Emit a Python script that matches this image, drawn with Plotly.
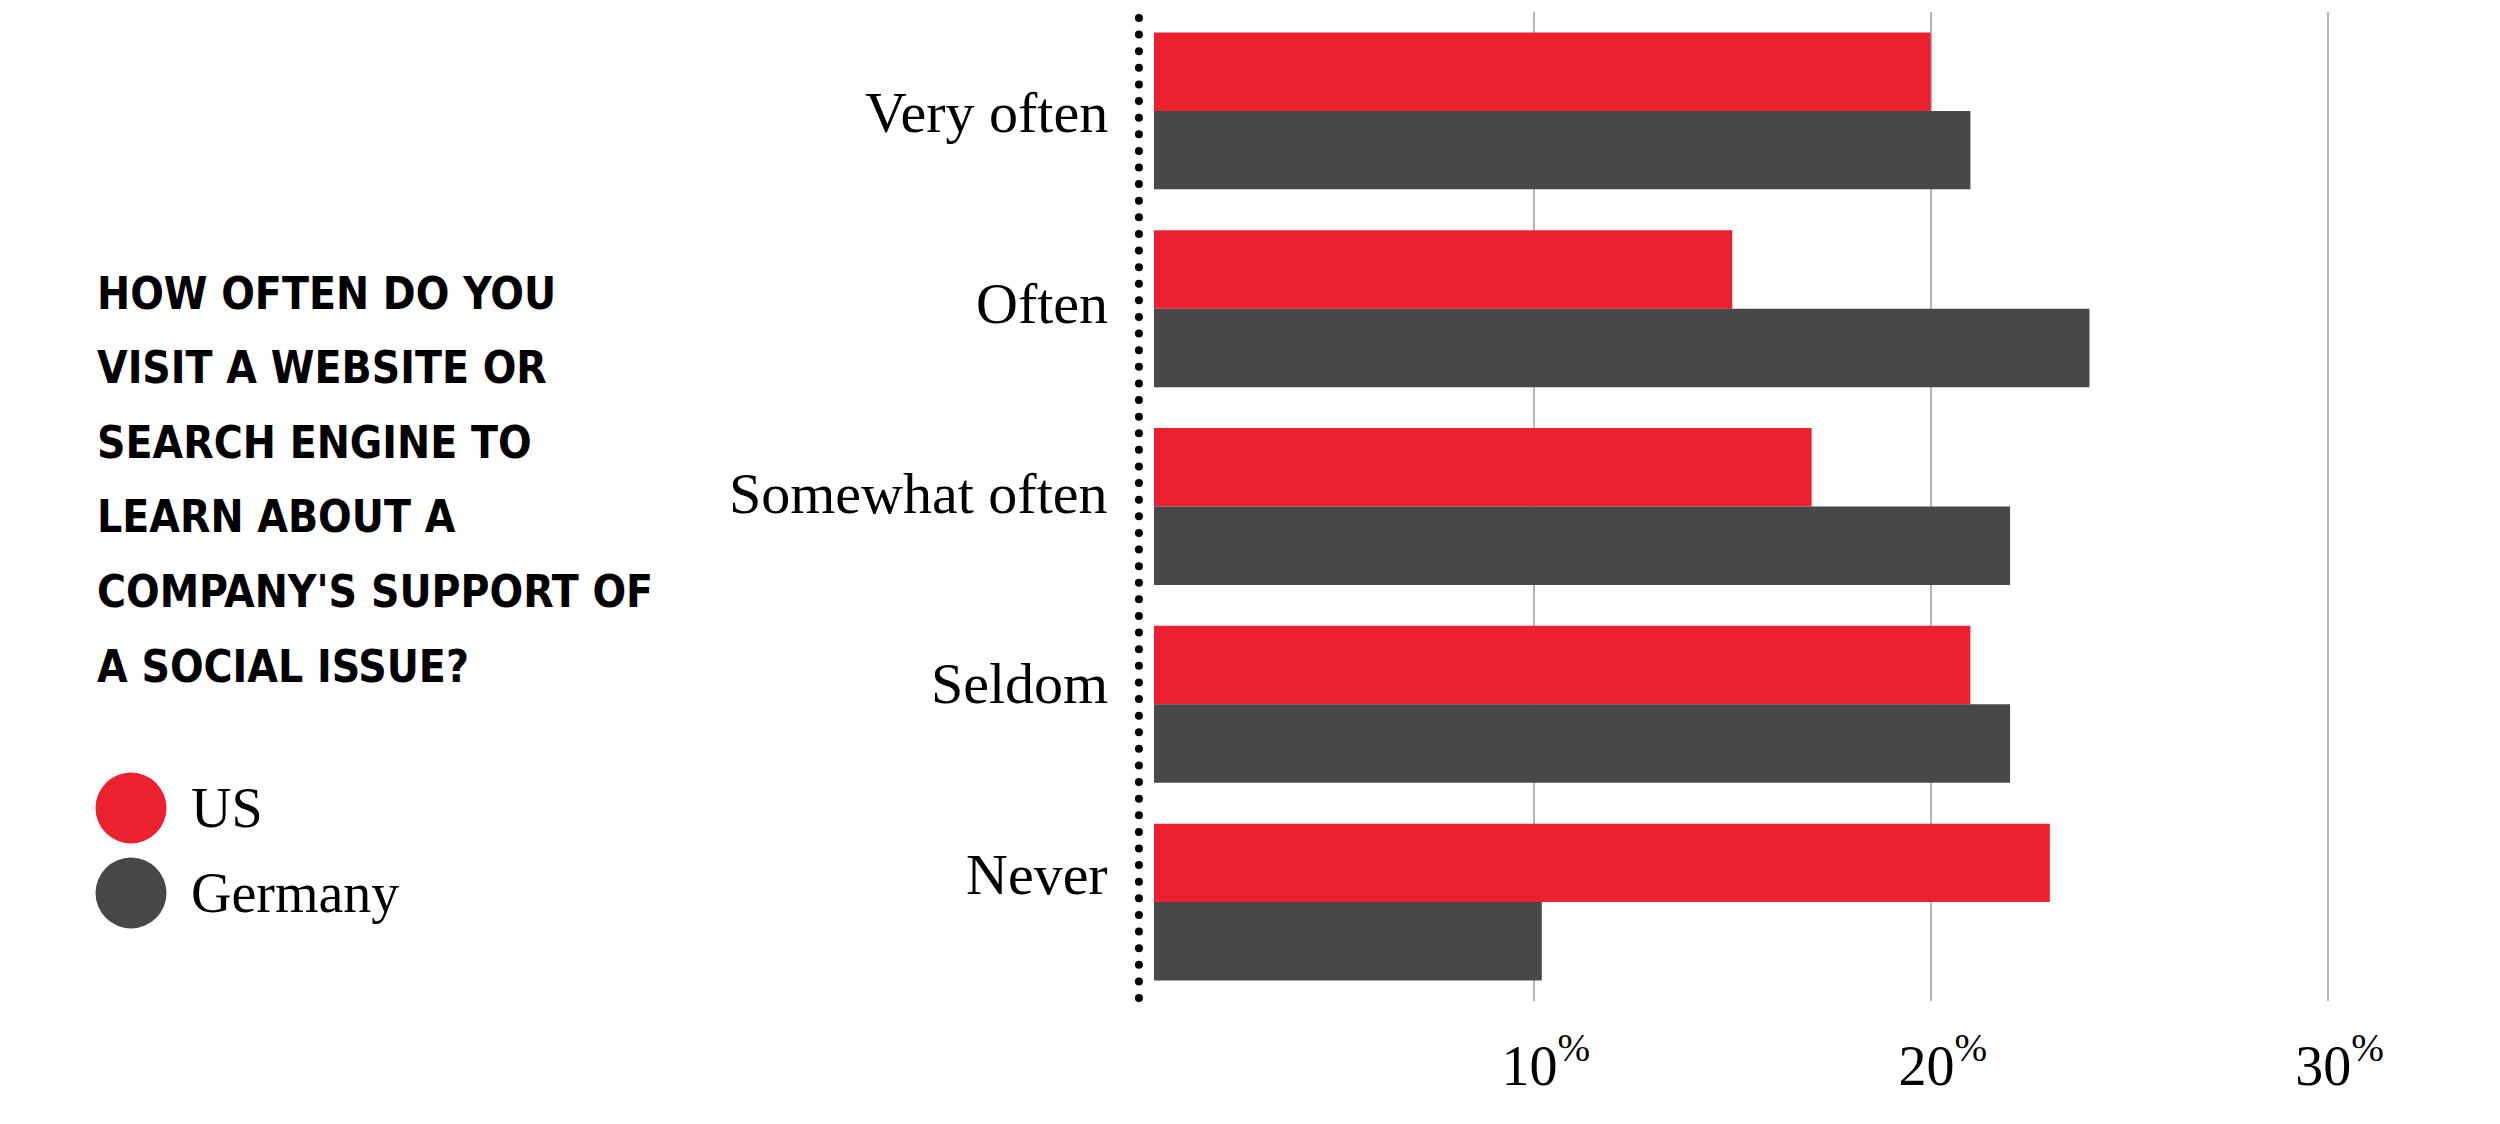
import numpy as np
import plotly.graph_objects as go

# ---------------- data ----------------
categories = ["Very often", "Often", "Somewhat often", "Seldom", "Never"]
us_values = [20, 15, 17, 21, 23]
germany_values = [21, 24, 22, 22, 10.2]
series_names = ["US", "Germany"]
tick_values = [10, 20, 30]
tick_labels = ["10<sup>%</sup>", "20<sup>%</sup>", "30<sup>%</sup>"]
title_lines = [
    "HOW OFTEN DO YOU",
    "VISIT A WEBSITE OR",
    "SEARCH ENGINE TO",
    "LEARN ABOUT A",
    "COMPANY'S SUPPORT OF",
    "A SOCIAL ISSUE?",
]

RED = "#EB2130"
GRAY = "#48484A"
W, H = 2500, 1124
# plot area in pixels
PL, PR, PT, PB = 1154, 2407, 12, 1001
X_RANGE = [0.43, 32]

def pxx(px):
    return (px - PL) / (PR - PL)

def pxy(py):
    return (PB - py) / (PB - PT)

SERIF = "Liberation Serif, Times New Roman, serif"
COND = "DejaVu Sans Condensed, Liberation Sans Narrow, sans-serif"

fig = go.Figure()
fig.add_trace(go.Bar(
    y=categories, x=us_values, name=series_names[0], orientation="h",
    marker=dict(color=RED, line=dict(width=0)), offsetgroup="a",
))
fig.add_trace(go.Bar(
    y=categories, x=germany_values, name=series_names[1], orientation="h",
    marker=dict(color=GRAY, line=dict(width=0)), offsetgroup="b",
))

fig.update_layout(
    width=W, height=H,
    margin=dict(l=PL, r=W - PR, t=PT, b=H - PB, pad=0),
    paper_bgcolor="white", plot_bgcolor="white",
    barmode="group", bargap=0.207, bargroupgap=0,
    showlegend=False,
    xaxis=dict(
        range=X_RANGE, tickvals=tick_values, ticktext=tick_labels,
        showgrid=True, gridcolor="#B4B4B4", gridwidth=2,
        zeroline=False, showline=False, ticks="",
        tickfont=dict(family=SERIF, size=56, color="black"),
        ticklabelstandoff=27, ticklabelshift=12,
    ),
    yaxis=dict(
        autorange="reversed", showgrid=False, zeroline=False, showline=False,
        ticks="", showticklabels=False,
    ),
)

# category labels (evenly spaced, right aligned left of the dotted line)
for i, cat in enumerate(categories):
    fig.add_annotation(
        xref="paper", yref="paper", x=pxx(1110), y=pxy(113 + 190.25 * i),
        xanchor="right", yanchor="middle", showarrow=False, text=cat,
        font=dict(family=SERIF, size=58, color="black"),
    )

# dotted baseline at x = 0 (just left of the plot edge)
zero_paper = (0 - X_RANGE[0]) / (X_RANGE[1] - X_RANGE[0])
zero_px = PL + zero_paper * (PR - PL) + 2
dot_r = 4
for cy in np.linspace(18, 998, 60):
    fig.add_shape(
        type="circle", xref="paper", yref="paper",
        x0=pxx(zero_px - dot_r), x1=pxx(zero_px + dot_r),
        y0=pxy(cy + dot_r), y1=pxy(cy - dot_r),
        fillcolor="black", line=dict(width=0),
    )

# title
for i, line in enumerate(title_lines):
    fig.add_annotation(
        xref="paper", yref="paper", x=pxx(95), y=pxy(293 + 74.6 * i),
        xanchor="left", yanchor="middle", showarrow=False,
        text="<b>" + line + "</b>",
        font=dict(family=COND, size=44, color="black"),
    )

# legend
legend_colors = [RED, GRAY]
legend_y = [808, 893]
for name, col, cy in zip(series_names, legend_colors, legend_y):
    r = 35.5
    fig.add_shape(
        type="circle", xref="paper", yref="paper",
        x0=pxx(131 - r), x1=pxx(131 + r), y0=pxy(cy + r), y1=pxy(cy - r),
        fillcolor=col, line=dict(width=0),
    )
    fig.add_annotation(
        xref="paper", yref="paper", x=pxx(189), y=pxy(cy),
        xanchor="left", yanchor="middle", showarrow=False, text=name,
        font=dict(family=SERIF, size=56, color="black"),
    )

fig.write_html(
    "out.html",
    config={"displayModeBar": False},
    post_script="document.body.style.margin='0';",
)
